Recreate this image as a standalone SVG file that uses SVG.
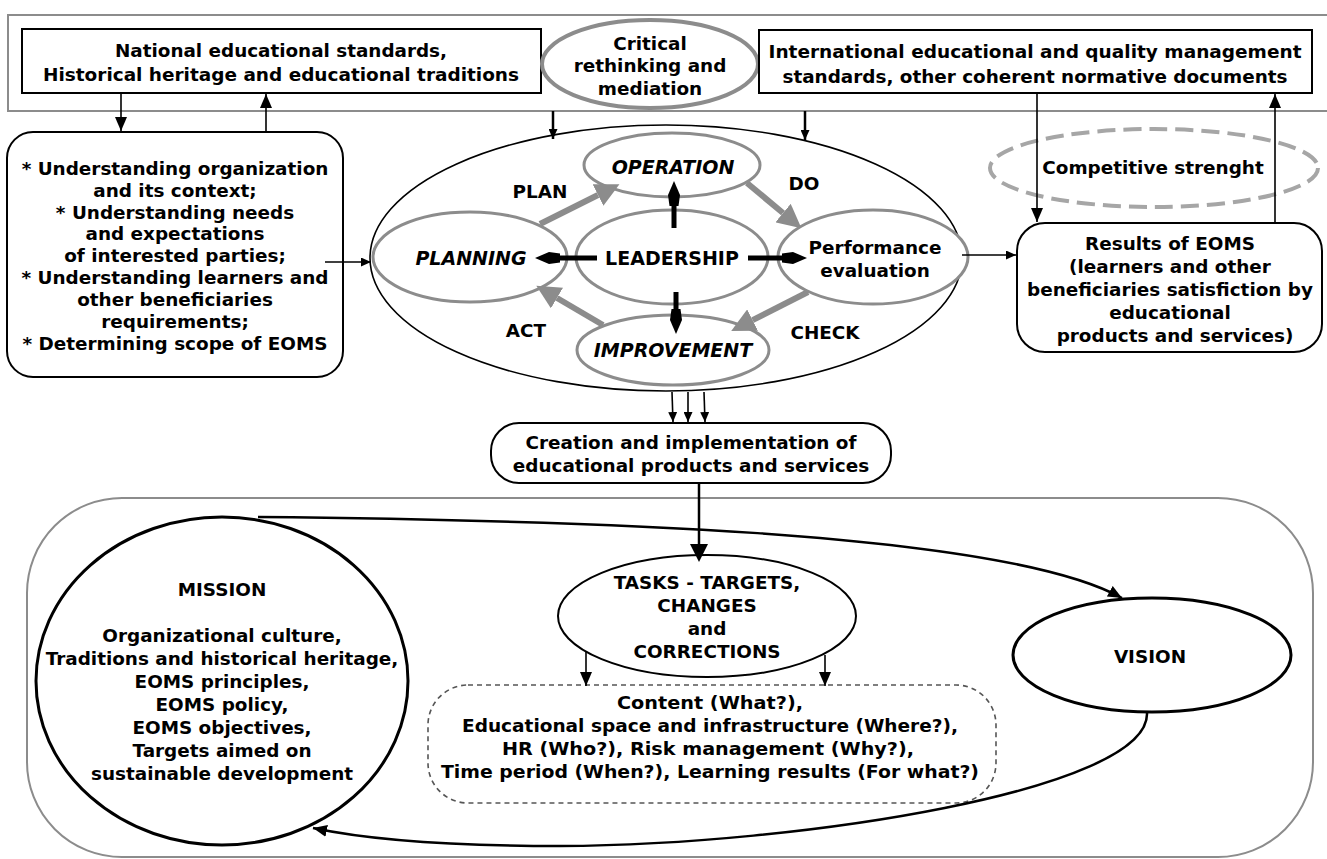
<svg xmlns="http://www.w3.org/2000/svg" width="1327" height="859" viewBox="0 0 1327 859">
<style>
.t{font-family:"DejaVu Sans",Verdana,sans-serif;font-weight:bold;font-size:18.4px;text-anchor:middle;fill:#000}
.it{font-style:italic;font-size:19px}
.l19{font-size:19px}
.box{fill:#fff;stroke:#000;stroke-width:2}
.gel{fill:#fff;stroke:#8c8c8c;stroke-width:3}
.frame{fill:none;stroke:#8c8c8c;stroke-width:2}
.thin{stroke:#000;stroke-width:1.6;fill:none}
.mid{stroke:#000;stroke-width:2.5;fill:none}
.garr{stroke:#8c8c8c;stroke-width:6;fill:none}
.larr{stroke:#000;stroke-width:5;fill:none}
</style>
<defs>
<marker id="a" markerUnits="userSpaceOnUse" markerWidth="14" markerHeight="12" refX="14" refY="6" orient="auto"><path d="M0,0 L14,6 L0,12 z" fill="#000"/></marker>
<marker id="s" markerUnits="userSpaceOnUse" markerWidth="10" markerHeight="9" refX="10" refY="4.5" orient="auto"><path d="M0,0 L10,4.5 L0,9 z" fill="#000"/></marker>
<marker id="b" markerUnits="userSpaceOnUse" markerWidth="18" markerHeight="18" refX="0" refY="9" orient="auto"><path d="M0,0 L18,9 L0,18 z" fill="#000"/></marker>
<marker id="g" markerUnits="userSpaceOnUse" markerWidth="24" markerHeight="24" refX="0" refY="12" orient="auto"><path d="M0,0 L24,12 L0,24 z" fill="#8c8c8c"/></marker>
<marker id="l" markerUnits="userSpaceOnUse" markerWidth="25" markerHeight="12" refX="0" refY="6" orient="auto"><path d="M0,1.5 L11,0 L25,6 L11,12 L0,10.5 z" fill="#000"/></marker>
</defs>

<rect class="frame" x="8" y="15" width="1330" height="96"/>
<rect class="frame" x="27" y="498" width="1286" height="359" rx="95" stroke-width="1.5"/>

<g id="national">
<rect class="box" x="22" y="29" width="519" height="64"/>
<text class="t" x="281" y="57" textLength="332" lengthAdjust="spacingAndGlyphs">National educational standards,</text>
<text class="t" x="281" y="81" textLength="476" lengthAdjust="spacingAndGlyphs">Historical heritage and educational traditions</text>
</g>

<g id="critical">
<ellipse cx="650" cy="64" rx="108" ry="44" fill="#fff" stroke="#8c8c8c" stroke-width="4"/>
<text class="t" x="650" y="50">Critical</text>
<text class="t" x="650" y="72">rethinking and</text>
<text class="t" x="650" y="95">mediation</text>
</g>

<g id="international">
<rect class="box" x="759" y="30" width="553" height="63"/>
<text class="t" x="1035" y="58" textLength="533" lengthAdjust="spacingAndGlyphs">International educational and quality management</text>
<text class="t" x="1035" y="83" textLength="505" lengthAdjust="spacingAndGlyphs">standards, other coherent normative documents</text>
</g>

<g id="context">
<rect class="box" x="7" y="132" width="336" height="245" rx="26"/>
<text class="t" x="175" y="175">* Understanding organization</text>
<text class="t" x="175" y="197">and its context;</text>
<text class="t" x="175" y="219">* Understanding needs</text>
<text class="t" x="175" y="240">and expectations</text>
<text class="t" x="175" y="262">of interested parties;</text>
<text class="t" x="175" y="284">* Understanding learners and</text>
<text class="t" x="175" y="306">other beneficiaries</text>
<text class="t" x="175" y="328">requirements;</text>
<text class="t" x="175" y="350">* Determining scope of EOMS</text>
</g>

<g id="pdca">
<ellipse cx="666" cy="258" rx="296" ry="133" fill="#fff" stroke="#000" stroke-width="1.6"/>
<g id="operation"><ellipse class="gel" cx="672" cy="165" rx="88" ry="32"/><text class="t it" x="673" y="174">OPERATION</text></g>
<g id="planning"><ellipse class="gel" cx="470" cy="257" rx="97" ry="45"/><text class="t it" x="471" y="265">PLANNING</text></g>
<g id="leadership"><ellipse class="gel" cx="672" cy="257" rx="96" ry="47"/><text class="t l19" x="672" y="265">LEADERSHIP</text></g>
<g id="performance"><ellipse class="gel" cx="873" cy="257" rx="95" ry="47"/><text class="t" x="875" y="254">Performance</text><text class="t" x="875" y="277">evaluation</text></g>
<g id="improvement"><ellipse class="gel" cx="673" cy="350" rx="96" ry="35"/><text class="t it" x="673" y="357">IMPROVEMENT</text></g>
<text class="t" x="540" y="198">PLAN</text>
<text class="t" x="804" y="190">DO</text>
<text class="t" x="526" y="337">ACT</text>
<text class="t" x="825" y="339">CHECK</text>
</g>

<g id="competitive">
<ellipse cx="1154" cy="168" rx="164" ry="39" fill="none" stroke="#a6a6a6" stroke-width="4" stroke-dasharray="18 8"/>
<text class="t" x="1153" y="174">Competitive strenght</text>
</g>

<g id="results">
<rect class="box" x="1017" y="223" width="305" height="129" rx="28"/>
<text class="t" x="1170" y="250">Results of EOMS</text>
<text class="t" x="1170" y="273">(learners and other</text>
<text class="t" x="1170" y="296">beneficiaries satisfiction by</text>
<text class="t" x="1170" y="319">educational</text>
<text class="t" x="1175" y="342">products and services)</text>
</g>

<g id="creation">
<rect class="box" x="491" y="423" width="400" height="60" rx="28"/>
<text class="t" x="691" y="449">Creation and implementation of</text>
<text class="t" x="691" y="472">educational products and services</text>
</g>

<g id="mission">
<ellipse cx="222" cy="681" rx="186" ry="164" fill="#fff" stroke="#000" stroke-width="3"/>
<text class="t" x="222" y="596">MISSION</text>
<text class="t" x="222" y="642">Organizational culture,</text>
<text class="t" x="222" y="665">Traditions and historical heritage,</text>
<text class="t" x="222" y="688">EOMS principles,</text>
<text class="t" x="222" y="711">EOMS policy,</text>
<text class="t" x="222" y="734">EOMS objectives,</text>
<text class="t" x="222" y="757">Targets aimed on</text>
<text class="t" x="222" y="780">sustainable development</text>
</g>

<g id="tasks">
<ellipse cx="707" cy="616" rx="149" ry="61" fill="#fff" stroke="#000" stroke-width="2"/>
<text class="t" x="707" y="589">TASKS - TARGETS,</text>
<text class="t" x="707" y="612">CHANGES</text>
<text class="t" x="707" y="635">and</text>
<text class="t" x="707" y="658">CORRECTIONS</text>
</g>

<g id="content">
<rect x="428" y="685" width="568" height="118" rx="40" fill="#fff" stroke="#555" stroke-width="1.6" stroke-dasharray="5 4"/>
<text class="t" x="710" y="709" textLength="186" lengthAdjust="spacingAndGlyphs">Content (What?),</text>
<text class="t" x="710" y="732" textLength="496" lengthAdjust="spacingAndGlyphs">Educational space and infrastructure (Where?),</text>
<text class="t" x="708" y="755" textLength="412" lengthAdjust="spacingAndGlyphs">HR (Who?), Risk management (Why?),</text>
<text class="t" x="710" y="778" textLength="538" lengthAdjust="spacingAndGlyphs">Time period (When?), Learning results (For what?)</text>
</g>

<g id="vision">
<ellipse cx="1152" cy="655" rx="139" ry="57" fill="#fff" stroke="#000" stroke-width="3"/>
<text class="t" x="1150" y="663">VISION</text>
</g>

<g id="connectors">
<path class="thin" d="M121 93 L121 131" marker-end="url(#a)"/>
<path class="thin" d="M266 132 L266 94" marker-end="url(#a)"/>
<path class="mid" d="M553 111 L553 139" marker-end="url(#s)"/>
<path class="mid" d="M805 111 L805 140" marker-end="url(#s)"/>
<path class="thin" d="M1037 93 L1037 222" marker-end="url(#a)"/>
<path class="thin" d="M1275 222 L1275 94" marker-end="url(#a)"/>
<path class="thin" d="M325 262 L371 262" marker-end="url(#s)"/>
<path class="thin" d="M962 255 L1016 255" marker-end="url(#s)"/>
<path class="garr" d="M540 224 L598 195" marker-end="url(#g)"/>
<path class="garr" d="M747 183 L783 213" marker-end="url(#g)"/>
<path class="garr" d="M808 292 L752.6 320.1" marker-end="url(#g)"/>
<path class="garr" d="M603 325 L557 298" marker-end="url(#g)"/>
<path class="larr" d="M674 228 L674 206" marker-end="url(#l)"/>
<path class="larr" d="M676 292 L676 309" marker-end="url(#l)"/>
<path class="larr" d="M597 258 L560 258" marker-end="url(#l)"/>
<path class="larr" d="M748 258 L782 258" marker-end="url(#l)"/>
<path class="thin" d="M672 392 L673 422" marker-end="url(#s)"/>
<path class="thin" d="M688 392 L688 422" marker-end="url(#s)"/>
<path class="thin" d="M704 392 L705 422" marker-end="url(#s)"/>
<path class="mid" d="M699 483 L699 544" stroke-width="3" marker-end="url(#b)"/>
<path class="thin" d="M586 652 L586 686" marker-end="url(#a)"/>
<path class="thin" d="M825 655 L825 686" marker-end="url(#a)"/>
<path class="mid" d="M258 517 C560 520 1000 530 1122 598" stroke-width="3" marker-end="url(#a)"/>
<path class="mid" d="M1147 713 C1150 790 800 845 560 846 C430 846 360 838 313 828" stroke-width="3" marker-end="url(#a)"/>
</g>
</svg>
